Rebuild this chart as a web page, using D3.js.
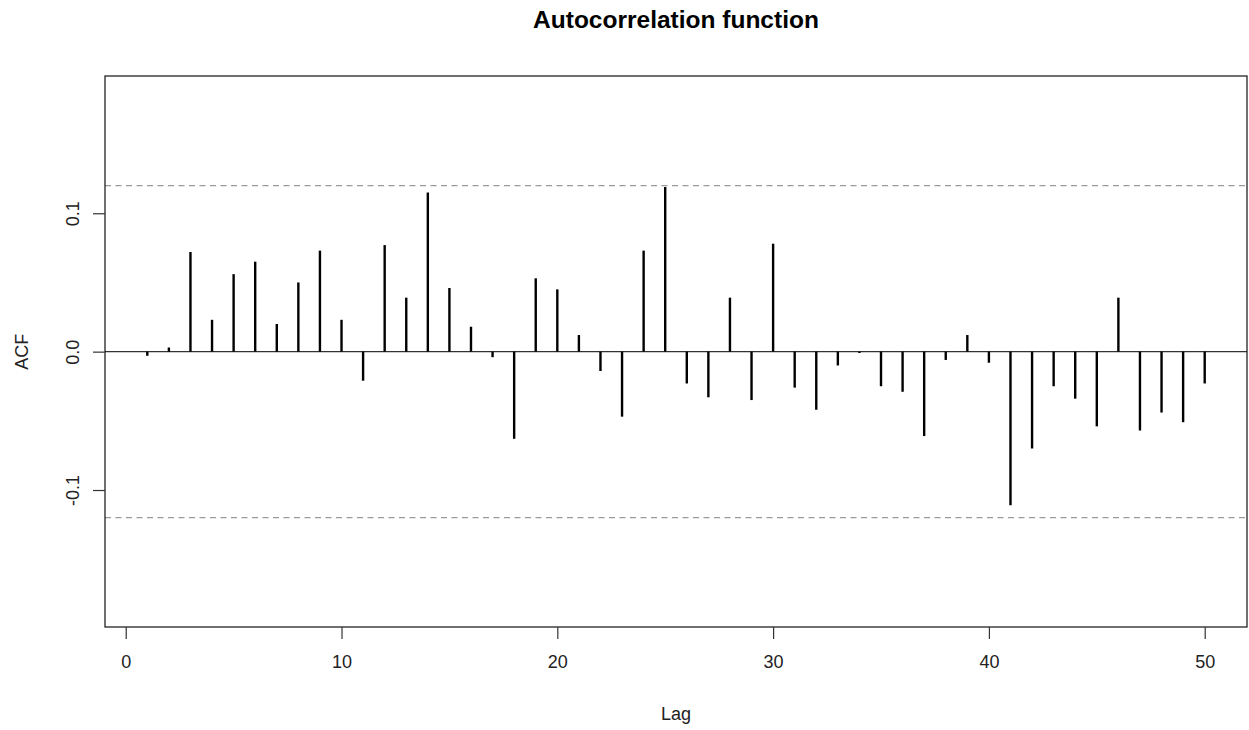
<!DOCTYPE html>
<html>
<head>
<meta charset="utf-8">
<script src="https://cdn.jsdelivr.net/npm/d3@7"></script>
<style>
  body { margin: 0; background: #fff; }
  svg { display: block; font-family: "Liberation Sans", Arial, sans-serif; }
</style>
</head>
<body>
<div id="chart"></div>
<script>
const lags = d3.range(1, 51);
const acf = [
  -0.003, 0.003, 0.072, 0.023, 0.056, 0.065, 0.020, 0.050, 0.073, 0.023,
  -0.021, 0.077, 0.039, 0.115, 0.046, 0.018, -0.004, -0.063, 0.053, 0.045,
  0.012, -0.014, -0.047, 0.073, 0.119, -0.023, -0.033, 0.039, -0.035, 0.078,
  -0.026, -0.042, -0.010, -0.001, -0.025, -0.029, -0.061, -0.006, 0.012, -0.008,
  -0.111, -0.070, -0.025, -0.034, -0.054, 0.039, -0.057, -0.044, -0.051, -0.023
];
const ci = 0.12;
const xTicks = [0, 10, 20, 30, 40, 50];
const yTicks = [-0.1, 0.0, 0.1];

const width = 1249, height = 730;
const box = {left: 105, right: 1247, top: 76, bottom: 627};

const x = d3.scaleLinear().domain([-0.96, 51.96]).range([box.left, box.right]);
const y = d3.scaleLinear().domain([-0.199, 0.1992]).range([box.bottom, box.top]);

const svg = d3.select("#chart").append("svg")
  .attr("width", width)
  .attr("height", height);

// confidence bands
svg.append("g")
  .selectAll("line")
  .data([ci, -ci])
  .join("line")
    .attr("x1", box.left).attr("x2", box.right)
    .attr("y1", d => y(d)).attr("y2", d => y(d))
    .attr("stroke", "#9a9a9a")
    .attr("stroke-width", 1.2)
    .attr("stroke-dasharray", "6,4.5");

// zero line
svg.append("line")
  .attr("x1", box.left).attr("x2", box.right)
  .attr("y1", y(0)).attr("y2", y(0))
  .attr("stroke", "#333")
  .attr("stroke-width", 1.2);

// spikes
svg.append("g")
  .selectAll("line")
  .data(lags)
  .join("line")
    .attr("x1", d => x(d)).attr("x2", d => x(d))
    .attr("y1", y(0))
    .attr("y2", (d, i) => y(acf[i]))
    .attr("stroke", "#000")
    .attr("stroke-width", 2.4);

// box
svg.append("rect")
  .attr("x", box.left).attr("y", box.top)
  .attr("width", box.right - box.left)
  .attr("height", box.bottom - box.top)
  .attr("fill", "none")
  .attr("stroke", "#111")
  .attr("stroke-width", 1.2);

// x axis
const xAxis = svg.append("g")
  .attr("transform", `translate(0,${box.bottom})`)
  .call(d3.axisBottom(x).tickValues(xTicks).tickFormat(d3.format("d")).tickSize(12).tickPadding(16));
xAxis.select(".domain").remove();
xAxis.selectAll(".tick line").attr("stroke", "#333").attr("stroke-width", 1.2);
xAxis.selectAll("text").attr("font-size", 18).attr("fill", "#222").attr("font-family", "Liberation Sans, Arial, sans-serif");

// y axis
const yAxis = svg.append("g")
  .attr("transform", `translate(${box.left},0)`)
  .call(d3.axisLeft(y).tickValues(yTicks).tickFormat(d => d3.format(".1f")(d).replace("\u2212", "-")).tickSize(12));
yAxis.select(".domain").remove();
yAxis.selectAll(".tick line").attr("stroke", "#333").attr("stroke-width", 1.2);
yAxis.selectAll("text")
  .attr("font-size", 18)
  .attr("fill", "#222")
  .attr("font-family", "Liberation Sans, Arial, sans-serif")
  .attr("text-anchor", "middle")
  .attr("dy", null)
  .attr("x", null)
  .attr("transform", "translate(-32,0) rotate(-90)")
  .attr("dominant-baseline", "central");

// labels
svg.append("text")
  .attr("x", (box.left + box.right) / 2)
  .attr("y", 28)
  .attr("text-anchor", "middle")
  .attr("font-size", 24.5)
  .attr("font-weight", "bold")
  .attr("fill", "#000")
  .text("Autocorrelation function");

svg.append("text")
  .attr("x", (box.left + box.right) / 2)
  .attr("y", 720)
  .attr("text-anchor", "middle")
  .attr("font-size", 18)
  .attr("fill", "#222")
  .text("Lag");

svg.append("text")
  .attr("transform", `translate(28,${y(0)}) rotate(-90)`)
  .attr("text-anchor", "middle")
  .attr("font-size", 18)
  .attr("fill", "#222")
  .text("ACF");
</script>
</body>
</html>
